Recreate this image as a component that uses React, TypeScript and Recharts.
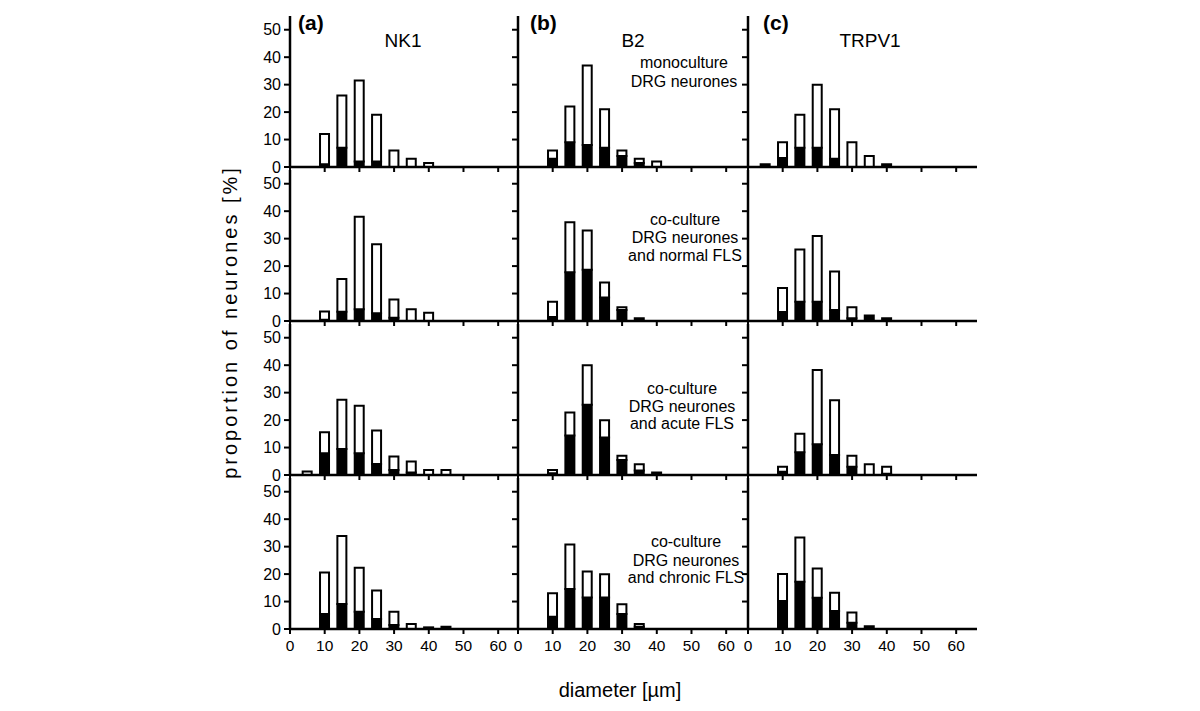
import React from 'react';
import { BarChart, Bar, XAxis, YAxis } from 'recharts';

// ---- data ----
const diameters = [5, 10, 15, 20, 25, 30, 35, 40, 45];
const xTicks = [0, 10, 20, 30, 40, 50, 60];
const yTicks = [0, 10, 20, 30, 40, 50];
const receptors = ['NK1', 'B2', 'TRPV1'];
const panelLetters = ['(a)', '(b)', '(c)'];

// NK1 (column a)
const nk1MonoTotal = [0, 12, 26, 31.5, 19, 6, 3, 1.5, 0];
const nk1MonoBlack = [0, 1, 7, 2, 2, 0, 0, 0, 0];
const nk1NormalTotal = [0, 3.5, 15.3, 38, 28, 7.8, 4.3, 3, 0];
const nk1NormalBlack = [0, 0.5, 3.4, 4.3, 2.8, 1.2, 0, 0, 0];
const nk1AcuteTotal = [1.3, 15.6, 27.4, 25.2, 16.2, 6.7, 4.9, 1.8, 1.8];
const nk1AcuteBlack = [0, 7.9, 9.5, 7.9, 4, 1.8, 0.9, 0, 0];
const nk1ChronicTotal = [0, 20.6, 33.9, 22.3, 14, 6.3, 1.8, 0.6, 0.8];
const nk1ChronicBlack = [0, 5.5, 9.1, 6.3, 3.6, 1.5, 0, 0.6, 0.8];

// B2 (column b)
const b2MonoTotal = [0, 6, 22, 37, 21, 6, 3, 2, 0];
const b2MonoBlack = [0, 3, 9, 8, 7, 4, 1.5, 0, 0];
const b2NormalTotal = [0, 7, 36, 33, 14, 5, 1, 0, 0];
const b2NormalBlack = [0, 1.5, 17.8, 18.7, 8.6, 4, 1, 0, 0];
const b2AcuteTotal = [0, 1.8, 22.8, 40, 19.9, 7, 3.9, 0.9, 0];
const b2AcuteBlack = [0, 0.6, 14.4, 25.6, 13.7, 5.5, 1.6, 0.9, 0];
const b2ChronicTotal = [0, 13, 30.8, 20.9, 19.9, 9, 1.8, 0, 0];
const b2ChronicBlack = [0, 4.5, 14.6, 11.5, 11.5, 5.5, 0.8, 0, 0];

// TRPV1 (column c)
const trpv1MonoTotal = [1, 9, 19, 30, 21, 9, 4, 1, 0];
const trpv1MonoBlack = [1, 3.3, 7, 7, 3, 0, 0, 1, 0];
const trpv1NormalTotal = [0, 12, 26, 31, 18, 5, 2, 1, 0];
const trpv1NormalBlack = [0, 3.3, 7, 7, 4, 1, 2, 1, 0];
const trpv1AcuteTotal = [0, 3, 15, 38.2, 27.2, 7, 3.9, 3, 0];
const trpv1AcuteBlack = [0, 1.2, 8.3, 11.2, 7.3, 3, 0, 0.5, 0];
const trpv1ChronicTotal = [0, 20, 33.3, 22, 13.2, 6, 1, 0, 0];
const trpv1ChronicBlack = [0, 10.2, 17.2, 11.4, 6.6, 2.3, 1, 0, 0];

const conditionLines = [
  ['monoculture', 'DRG neurones'],
  ['co-culture', 'DRG neurones', 'and normal FLS'],
  ['co-culture', 'DRG neurones', 'and acute FLS'],
  ['co-culture', 'DRG neurones', 'and chronic FLS'],
];

// grid[row][col] = [total, black]
const grid = [
  [[nk1MonoTotal, nk1MonoBlack], [b2MonoTotal, b2MonoBlack], [trpv1MonoTotal, trpv1MonoBlack]],
  [[nk1NormalTotal, nk1NormalBlack], [b2NormalTotal, b2NormalBlack], [trpv1NormalTotal, trpv1NormalBlack]],
  [[nk1AcuteTotal, nk1AcuteBlack], [b2AcuteTotal, b2AcuteBlack], [trpv1AcuteTotal, trpv1AcuteBlack]],
  [[nk1ChronicTotal, nk1ChronicBlack], [b2ChronicTotal, b2ChronicBlack], [trpv1ChronicTotal, trpv1ChronicBlack]],
];

// ---- layout ----
const FONT = '"Liberation Sans", Arial, sans-serif';
const COL_X = [290, 518, 748];
const ROW_BASE = [167, 321, 475, 629];
const PLOT_W = 229;
const PLOT_H = 151;
const MT = 4;

const emptyTick = () => <g />;

function Panel({ row, col }: { row: number; col: number }) {
  const [total, black] = grid[row][col];
  const data = diameters
    .map((d, i) => ({ d, black: black[i], white: Math.max(0, total[i] - black[i]) }))
    .filter((r) => r.black + r.white > 0);
  const yw = col === 0 ? 50 : 12;
  const xh = row === 3 ? 32 : 8;
  const w = yw + PLOT_W + 2;
  const h = MT + PLOT_H + xh;
  return (
    <div
      style={{
        position: 'absolute',
        left: COL_X[col] - yw,
        top: ROW_BASE[row] - PLOT_H - MT,
        width: w,
        height: h,
      }}
    >
      <BarChart
        width={w}
        height={h}
        data={data}
        margin={{ top: MT, right: 2, left: 0, bottom: 0 }}
        barSize={9}
      >
        <XAxis
          dataKey="d"
          type="number"
          domain={[0, 66]}
          ticks={xTicks}
          interval={0}
          height={xh}
          tickSize={5}
          tickMargin={6}
          axisLine={{ stroke: '#000', strokeWidth: 2.5 }}
          tickLine={{ stroke: '#000', strokeWidth: 2 }}
          tick={row === 3 ? { fontSize: 15.5, fill: '#000', fontFamily: FONT } : emptyTick}
        />
        <YAxis
          type="number"
          domain={[0, 55]}
          ticks={yTicks}
          interval={0}
          width={yw}
          tickSize={6}
          tickMargin={3}
          axisLine={{ stroke: '#000', strokeWidth: 2.5 }}
          tickLine={{ stroke: '#000', strokeWidth: 2 }}
          tick={col === 0 ? { fontSize: 16, fill: '#000', fontFamily: FONT } : emptyTick}
        />
        <Bar dataKey="black" stackId="s" fill="#000" stroke="#000" strokeWidth={2} isAnimationActive={false} />
        <Bar dataKey="white" stackId="s" fill="#fff" stroke="#000" strokeWidth={2} isAnimationActive={false} />
      </BarChart>
    </div>
  );
}

const lettersX = [298, 530, 763];
const receptorX = [403, 633, 870];

export default function App() {
  const panels = [];
  for (let r = 0; r < 4; r++) for (let c = 0; c < 3; c++) panels.push(<Panel key={`${r}-${c}`} row={r} col={c} />);
  const condBaselines = [[68, 87], [225, 243, 261], [394, 412, 429], [547, 566, 583]];
  const condX = [684, 685, 682, 686];
  return (
    <div style={{ position: 'absolute', left: 0, top: 0, width: 1200, height: 711, background: '#fff', fontFamily: FONT }}>
      {panels}
      <svg width={1200} height={711} style={{ position: 'absolute', left: 0, top: 0, pointerEvents: 'none' }}>
        {panelLetters.map((l, i) => (
          <text key={l} x={lettersX[i]} y={30} fontSize={21} fontWeight="bold" fontFamily={FONT} fill="#000">
            {l}
          </text>
        ))}
        {receptors.map((l, i) => (
          <text key={l} x={receptorX[i]} y={47} fontSize={19} textAnchor="middle" fontFamily={FONT} fill="#000">
            {l}
          </text>
        ))}
        {conditionLines.map((lines, r) =>
          lines.map((ln, j) => (
            <text
              key={`${r}-${j}`}
              x={condX[r]}
              y={condBaselines[r][j]}
              fontSize={16}
              textAnchor="middle"
              fontFamily={FONT}
              fill="#000"
            >
              {ln}
            </text>
          ))
        )}
        <text
          x={0}
          y={0}
          transform="translate(237,322) rotate(-90)"
          fontSize={20}
          letterSpacing={3}
          textAnchor="middle"
          fontFamily={FONT}
          fill="#000"
        >
          proportion of neurones [%]
        </text>
        <text x={620} y={697} fontSize={20} textAnchor="middle" fontFamily={FONT} fill="#000">
          diameter [µm]
        </text>
      </svg>
    </div>
  );
}
